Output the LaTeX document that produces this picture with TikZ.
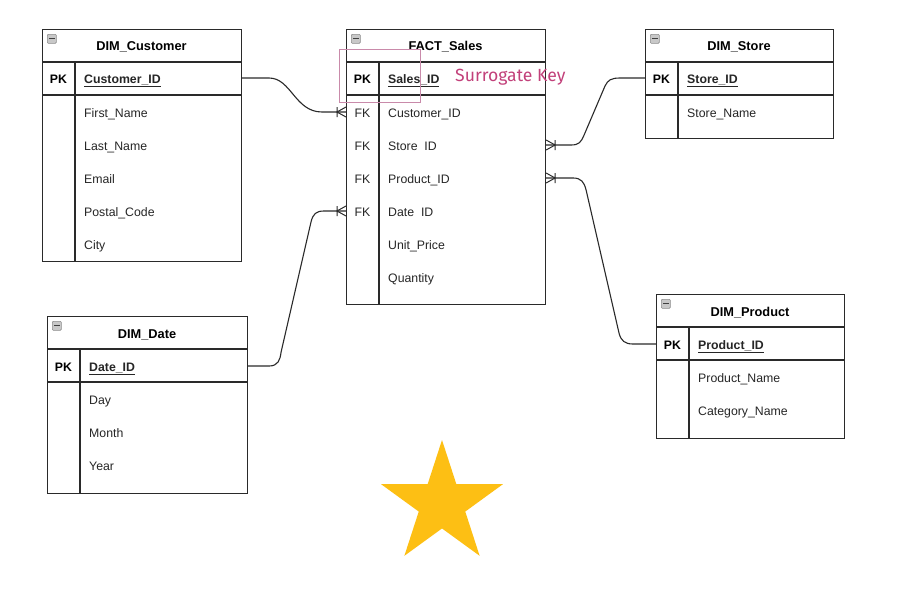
\documentclass[tikz,border=0pt]{standalone}
\usepackage{fontspec}
\setmainfont{Liberation Sans}
\newfontfamily\keyfont{Fira Sans}
\usetikzlibrary{shapes.geometric}
\definecolor{lineC}{HTML}{2A2A2A}
\definecolor{pinkC}{HTML}{C2407A}
\definecolor{pinkBox}{HTML}{C98AAA}
\definecolor{starY}{HTML}{FDBF14}
\definecolor{iconC}{HTML}{C8C8C8}
\begin{document}
\begin{tikzpicture}[x=1pt,y=-1pt,
  tbl/.style={draw=lineC, line width=1.1pt, rectangle, inner sep=0, anchor=north west},
  hrule/.style={draw=lineC, line width=1.1pt},
  krule/.style={draw=lineC, line width=1.6pt},
  vrule/.style={draw=lineC, line width=1.1pt},
  title/.style={font=\bfseries\fontsize{12.8}{14}\selectfont, inner sep=0, text height=11pt, text depth=0.5pt},
  fld/.style={font=\fontsize{12.3}{14}\selectfont, anchor=west, inner sep=0, text height=11pt, text depth=0.5pt, text=black!85},
  keyl/.style={font=\bfseries\fontsize{12.3}{14}\selectfont, inner sep=0, text height=11pt, text depth=0.5pt},
  fkl/.style={font=\fontsize{12.3}{14}\selectfont, inner sep=0, text height=11pt, text depth=0.5pt, text=black!85},
  pkf/.style={fld, font=\bfseries\fontsize{12.3}{14}\selectfont},
  icon/.style={draw=black!45, fill=iconC, line width=0.6pt, rounded corners=1pt, minimum width=9pt, minimum height=9pt, inner sep=0, anchor=north west},
  minus/.style={draw=black!75, line width=1.2pt},
  conn/.style={draw=lineC, line width=1.1pt},
  crow/.pic={\draw[lineC, line width=1pt] (-9,-5) -- (-9,5) (0,-5) -- (-9,0) -- (0,5);}
]
\useasboundingbox (0,0) rectangle (921,598);
\fill[white] (0,0) rectangle (921,598);

% ---------- DIM_Customer
\node[tbl, minimum width=199pt, minimum height=232pt] (cust) at (42,29) {};
\node[icon] (custI) at (47,34) {};
\draw[minus] ([xshift=2pt]custI.west) -- ([xshift=-2pt]custI.east);
\node[title] (custT) at (141.5,45) {DIM\_Customer};
\draw[hrule] (42,62) -- (241,62);
\draw[krule] (42,95) -- (241,95);
\draw[vrule] (75,62) -- (75,261);
\node[keyl] (custK) at (58.5,78) {PK};
\node[pkf] (custPK) at (84,78) {\underline{Customer\_ID}};
\node[fld] (cust1) at (84,112) {First\_Name};
\node[fld] (cust2) at (84,145) {Last\_Name};
\node[fld] (cust3) at (84,178) {Email};
\node[fld] (cust4) at (84,211) {Postal\_Code};
\node[fld] (cust5) at (84,244) {City};

% ---------- FACT_Sales
\node[tbl, minimum width=199pt, minimum height=275pt] (fact) at (346,29) {};
\node[icon] (factI) at (351,34) {};
\draw[minus] ([xshift=2pt]factI.west) -- ([xshift=-2pt]factI.east);
\node[title] (factT) at (445.5,45) {FACT\_Sales};
\draw[hrule] (346,62) -- (545,62);
\draw[krule] (346,95) -- (545,95);
\draw[vrule] (379,62) -- (379,304);
\node[keyl] (factK) at (362.5,78) {PK};
\node[pkf] (factPK) at (388,78) {\underline{Sales\_ID}};
\node[fkl] (fk1) at (362.5,112) {FK};
\node[fkl] (fk2) at (362.5,145) {FK};
\node[fkl] (fk3) at (362.5,178) {FK};
\node[fkl] (fk4) at (362.5,211) {FK};
\node[fld] (fCust) at (388,112) {Customer\_ID};
\node[fld] (fStore) at (388,145) {Store\ \ ID};
\node[fld] (fProd) at (388,178) {Product\_ID};
\node[fld] (fDate) at (388,211) {Date\ \ ID};
\node[fld] (fPrice) at (388,244) {Unit\_Price};
\node[fld] (fQty) at (388,277) {Quantity};

% surrogate key annotation
\node[draw=pinkBox, line width=0.8pt, rectangle, anchor=north west, minimum width=81pt, minimum height=53pt, inner sep=0] (sk) at (339,49) {};
\node[anchor=west, inner sep=0, text=pinkC, font=\keyfont\fontsize{17.6}{19}\selectfont, text height=12pt, text depth=4pt] (skT) at (455,77) {Surrogate Key};

% ---------- DIM_Store
\node[tbl, minimum width=188pt, minimum height=109pt] (store) at (645,29) {};
\node[icon] (storeI) at (650,34) {};
\draw[minus] ([xshift=2pt]storeI.west) -- ([xshift=-2pt]storeI.east);
\node[title] (storeT) at (739,45) {DIM\_Store};
\draw[hrule] (645,62) -- (833,62);
\draw[krule] (645,95) -- (833,95);
\draw[vrule] (678,62) -- (678,138);
\node[keyl] (storeK) at (661.5,78) {PK};
\node[pkf] (storePK) at (687,78) {\underline{Store\_ID}};
\node[fld] (store1) at (687,112) {Store\_Name};

% ---------- DIM_Date
\node[tbl, minimum width=200pt, minimum height=177pt] (date) at (47,316) {};
\node[icon] (dateI) at (52,321) {};
\draw[minus] ([xshift=2pt]dateI.west) -- ([xshift=-2pt]dateI.east);
\node[title] (dateT) at (147,333) {DIM\_Date};
\draw[hrule] (47,349) -- (247,349);
\draw[krule] (47,382) -- (247,382);
\draw[vrule] (80,349) -- (80,493);
\node[keyl] (dateK) at (63.5,366) {PK};
\node[pkf] (datePK) at (89,366) {\underline{Date\_ID}};
\node[fld] (date1) at (89,399) {Day};
\node[fld] (date2) at (89,432) {Month};
\node[fld] (date3) at (89,465) {Year};

% ---------- DIM_Product
\node[tbl, minimum width=188pt, minimum height=144pt] (prod) at (656,294) {};
\node[icon] (prodI) at (661,299) {};
\draw[minus] ([xshift=2pt]prodI.west) -- ([xshift=-2pt]prodI.east);
\node[title] (prodT) at (750,311) {DIM\_Product};
\draw[hrule] (656,327) -- (844,327);
\draw[krule] (656,360) -- (844,360);
\draw[vrule] (689,327) -- (689,438);
\node[keyl] (prodK) at (672.5,344) {PK};
\node[pkf] (prodPK) at (698,344) {\underline{Product\_ID}};
\node[fld] (prod1) at (698,377) {Product\_Name};
\node[fld] (prod2) at (698,410) {Category\_Name};

% ---------- connectors
\draw[conn] (cust.east |- custPK) -- ++(27,0) .. controls +(22,0) and +(-27,0) .. ([xshift=-24pt]fact.west |- fCust) -- (fact.west |- fCust);
\pic at (fact.west |- fCust) {crow};

\draw[conn] (date.east |- datePK) -- ++(21,0) .. controls +(9,0) and +(-1,8) .. ++(12,-14) -- ([xshift=-35pt,yshift=-11pt]fact.west |- fDate) .. controls +(2,-8) and +(-8,0) .. ([xshift=-22pt]fact.west |- fDate) -- (fact.west |- fDate);
\pic at (fact.west |- fDate) {crow};

\draw[conn] (fact.east |- fStore) -- ++(25,0) .. controls +(8,0) and +(-3,7) .. ++(13,-10) -- ([xshift=-40pt,yshift=-8pt]store.west |- storePK) .. controls +(3,-6) and +(-9,0) .. ([xshift=-25pt]store.west |- storePK) -- (store.west |- storePK);
\pic[xscale=-1] at (fact.east |- fStore) {crow};

\draw[conn] (fact.east |- fProd) -- ++(27,0) .. controls +(8,0) and +(-2,-8) .. ++(13,12) -- ([xshift=-37pt,yshift=11pt]prod.west |- prodPK) .. controls +(2,8) and +(-8,0) .. ([xshift=-23pt]prod.west |- prodPK) -- (prod.west |- prodPK);
\pic[xscale=-1] at (fact.east |- fProd) {crow};

% ---------- star
\node[star, star points=5, star point ratio=2.618, minimum size=128pt, inner sep=0, fill=starY, draw=none] (star) at (442,504) {};
\end{tikzpicture}
\end{document}
